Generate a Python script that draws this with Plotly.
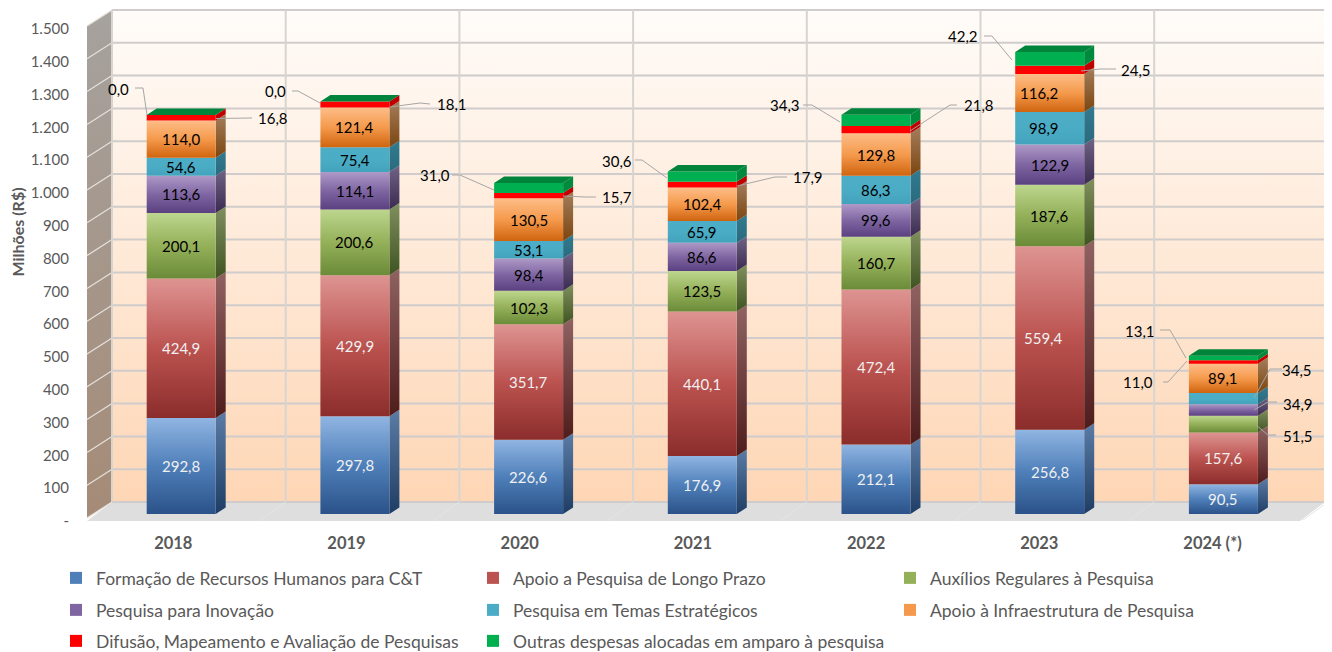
import plotly.graph_objects as go

YEARS = ["2018", "2019", "2020", "2021", "2022", "2023", "2024 (*)"]
NAMES = ["Formação de Recursos Humanos para C&T", "Apoio a Pesquisa de Longo Prazo",
         "Auxílios Regulares à Pesquisa", "Pesquisa para Inovação",
         "Pesquisa em Temas Estratégicos", "Apoio à Infraestrutura de Pesquisa",
         "Difusão, Mapeamento e Avaliação de Pesquisas",
         "Outras despesas alocadas em amparo à pesquisa"]
FORMACAO = [292.8, 297.8, 226.6, 176.9, 212.1, 256.8, 90.5]
LONGO_PRAZO = [424.9, 429.9, 351.7, 440.1, 472.4, 559.4, 157.6]
AUXILIOS = [200.1, 200.6, 102.3, 123.5, 160.7, 187.6, 51.5]
INOVACAO = [113.6, 114.1, 98.4, 86.6, 99.6, 122.9, 34.9]
TEMAS = [54.6, 75.4, 53.1, 65.9, 86.3, 98.9, 34.5]
INFRA = [114.0, 121.4, 130.5, 102.4, 129.8, 116.2, 89.1]
DIFUSAO = [16.8, 18.1, 15.7, 17.9, 21.8, 24.5, 11.0]
OUTRAS = [0.0, 0.0, 31.0, 30.6, 34.3, 42.2, 13.1]
SERIES = [FORMACAO, LONGO_PRAZO, AUXILIOS, INOVACAO, TEMAS, INFRA, DIFUSAO, OUTRAS]
Y_TICKS = list(range(0, 1501, 100))
Y_LABELS = ["-"] + [f"{v:,}".replace(",", ".") for v in Y_TICKS[1:]]

# styles: (front top, front bottom, side top, side bottom, front middle / legend swatch)
STYLES = [
    ("#90b5e2", "#2b5289", "#5a7ca6", "#1f3d64", "#4f7fb9"),
    ("#de9492", "#8b2d2b", "#906262", "#4f1c1c", "#bb5350"),
    ("#bdd68e", "#6b8b39", "#808f5e", "#3f5422", "#94b059"),
    ("#ae99c7", "#5a4080", "#706384", "#3a2a50", "#7f66a2"),
    ("#4dadc7", "#43a3bd", "#327b90", "#2a6a7e", "#4bacc6"),
    ("#fdbd88", "#cf640f", "#a37e5c", "#7c4510", "#f59a4c"),
    ("#ff0000", "#ff0000", "#c00000", "#c00000", "#ff0000"),
    ("#00b050", "#00b050", "#008a3e", "#008a3e", "#00b050"),
]
TEXT_COLOR = ["#f0f0f0", "#f0f0f0"] + ["#000000"] * 6
TOP_FACE = "#00843c"

PAGE_W, PAGE_H = 1332, 652
BODY_MARGIN = 8
L, R, T, B = 80, 1330, 9, 525
STEP = 173.7
TICK_STEP = 173.2
CAT0_PX = 173.3
BAR_BASE_PX = 514.0
K = 0.328


def dx(px):
    return (px - CAT0_PX) / STEP


def dy(py):
    return (BAR_BASE_PX - py) / K


BAR_SHIFT = 7.9 / STEP
BAR_W = 69.0 / STEP
DEPTH_X = 10.0 / STEP
DEPTH_Y = 6.5 / K
TICK_SHIFT = -7.0 / K

# label position and leader path, in pixels: (series, year): (lx, ly, path)
OUTSIDE = {
    (7, 0): (118, 89, [(135, 88), (143, 88), (147, 115)]),
    (6, 0): (273, 118, [(252, 118), (232, 118), (216, 118.5)]),
    (7, 1): (275, 91, [(292, 91), (298, 91), (320, 103)]),
    (6, 1): (452, 104, [(430, 104), (420, 103), (390, 107)]),
    (7, 2): (435, 175, [(452, 175), (460, 175), (494, 190)]),
    (6, 2): (617, 197, [(596, 197), (585, 197), (563, 196)]),
    (7, 3): (617, 161, [(635, 160), (642, 160), (667, 178)]),
    (6, 3): (808, 177, [(787, 177), (775, 177), (737, 186)]),
    (7, 4): (785, 105, [(803, 105), (812, 105), (840, 122)]),
    (6, 4): (979, 105, [(957, 105), (950, 105), (910, 131)]),
    (7, 5): (963, 36, [(984, 36), (992, 36), (1012, 60)]),
    (6, 5): (1136, 70, [(1116, 69), (1100, 69), (1081, 71)]),
    (7, 6): (1140, 331, [(1160, 330), (1170, 330), (1186, 358)]),
    (6, 6): (1138, 382, [(1163, 382), (1168, 382), (1187, 361)]),
    (4, 6): (1297, 370, [(1282, 369), (1270, 369), (1254, 398)]),
    (3, 6): (1298, 404, [(1277, 402), (1268, 402), (1254, 410)]),
    (2, 6): (1298, 436, [(1276, 435), (1268, 435), (1256, 425)]),
}
NUDGE = {(5, 5): -11, (4, 5): -6, (1, 5): -6}

fig = go.Figure()


def poly(points, c0, c1=None, cm=None):
    xs = [p[0] for p in points] + [points[0][0]]
    ys = [p[1] for p in points] + [points[0][1]]
    kw = dict(fillcolor=c0)
    if c1 is not None and c1 != c0:
        stops = [[0, c1], [0.5, cm], [1, c0]] if cm else [[0, c1], [1, c0]]
        kw = dict(fillgradient=dict(type="vertical", colorscale=stops))
    fig.add_trace(go.Scatter(x=xs, y=ys, mode="lines", fill="toself", line=dict(width=0),
                             hoverinfo="skip", showlegend=False, **kw))


def line_px(path, color, width):
    fig.add_trace(go.Scatter(x=[dx(p[0]) for p in path], y=[dy(p[1]) for p in path], mode="lines",
                             line=dict(color=color, width=width), hoverinfo="skip", showlegend=False))


# real stacked bars, carrying the legend
ROWS = ["legend", "legend", "legend", "legend2", "legend2", "legend2", "legend3", "legend3"]
for s, vals in enumerate(SERIES):
    fig.add_trace(go.Bar(x=list(range(7)), y=vals, name=NAMES[s], width=BAR_W, offset=BAR_SHIFT - BAR_W / 2,
                         marker=dict(color=STYLES[s][4], line=dict(width=0)), legend=ROWS[s],
                         hovertemplate="%{y:.1f}<extra>" + NAMES[s] + "</extra>"))

# walls and floor
WALL_L, WALL_R, WALL_T, WALL_B = 112, 1325, 10, 502
FRONT_L, FRONT_R = 87, 1300
poly([(dx(FRONT_L), dy(521)), (dx(WALL_L), dy(WALL_B)), (dx(WALL_R), dy(WALL_B)), (dx(FRONT_R), dy(521))], "#dedede")
poly([(dx(WALL_L), dy(WALL_T)), (dx(WALL_R), dy(WALL_T)), (dx(WALL_R), dy(WALL_B)), (dx(WALL_L), dy(WALL_B))],
     "#fffcf9", "#fed6b5")
poly([(dx(FRONT_L), dy(26)), (dx(WALL_L), dy(WALL_T)), (dx(WALL_L), dy(WALL_B)), (dx(FRONT_L), dy(518))],
     "#a6a29e", "#a58b77")
for v in Y_TICKS:
    py = WALL_B - v * K
    line_px([(FRONT_L, py + 16), (WALL_L, py)], "#e6e1dc", 1.2)
    line_px([(WALL_L, py), (WALL_R, py)], "#cfcccb", 2)
for c in range(8):
    px = WALL_L + c * STEP
    line_px([(px, WALL_T), (px, WALL_B)], "#d8d4d0", 2)
    if c:
        line_px([(px, WALL_B), (px - 25, 520)], "#e4e4e4", 1)

# bar faces
labels = []
for i in range(7):
    xl = i + BAR_SHIFT - BAR_W / 2
    xr = xl + BAR_W
    cum = 0.0
    for s, vals in enumerate(SERIES):
        v = vals[i]
        y0, y1 = cum, cum + v
        cum = y1
        st = STYLES[s]
        if v > 0:
            poly([(xr, y0), (xr + DEPTH_X, y0 + DEPTH_Y), (xr + DEPTH_X, y1 + DEPTH_Y), (xr, y1)], st[2], st[3])
            poly([(xl, y0), (xr, y0), (xr, y1), (xl, y1)], st[0], st[1], st[4])
        if (s, i) not in OUTSIDE:
            labels.append(dict(x=i + BAR_SHIFT + NUDGE.get((s, i), 0) / STEP, y=(y0 + y1) / 2,
                               text=f"{v:.1f}".replace(".", ","), font_color=TEXT_COLOR[s]))
    poly([(xl, cum), (xr, cum), (xr + DEPTH_X, cum + DEPTH_Y), (xl + DEPTH_X, cum + DEPTH_Y)], TOP_FACE)

# leaders and outside labels
for (s, i), (lx, ly, path) in OUTSIDE.items():
    line_px(path, "#a6a6a6", 1)
    labels.append(dict(x=dx(lx), y=dy(ly), text=f"{SERIES[s][i]:.1f}".replace(".", ","), font_color="#000000"))

annotations = [dict(x=a["x"], y=a["y"], text=a["text"], showarrow=False, xref="x", yref="y",
                    font=dict(family="Lato", size=15, color=a["font_color"])) for a in labels]
annotations.append(dict(text="<b>Milhões (R$)</b>", textangle=-90, showarrow=False, xref="paper", yref="paper",
                        x=(16.5 - L) / (R - L), y=(B - 232) / (B - T), xanchor="center", yanchor="middle",
                        font=dict(family="Lato", size=16, color="#595959")))


def legend_cfg(py):
    return dict(orientation="h", x=(56 - L) / (R - L), xanchor="left", y=(B - py) / (B - T), yanchor="middle",
                entrywidth=372, entrywidthmode="pixels", bgcolor="rgba(0,0,0,0)",
                font=dict(family="Lato", size=17.5, color="#595959"), traceorder="normal")


fig.update_layout(
    width=PAGE_W - BODY_MARGIN, height=PAGE_H - BODY_MARGIN, barmode="stack", showlegend=True,
    margin=dict(l=L - BODY_MARGIN, r=PAGE_W - R, t=T - BODY_MARGIN, b=PAGE_H - B, pad=0, autoexpand=False),
    paper_bgcolor="#ffffff", plot_bgcolor="#ffffff",
    font=dict(family="Lato", size=15, color="#595959"),
    xaxis=dict(range=[dx(L), dx(R)], tickvals=[i * TICK_STEP / STEP for i in range(7)], ticktext=YEARS,
               showgrid=False, zeroline=False, showline=False, ticks="",
               tickfont=dict(family="Lato", size=16.5, color="#595959", weight="bold"), ticklabelstandoff=6),
    yaxis=dict(range=[dy(B), dy(T)], tickvals=[v + TICK_SHIFT for v in Y_TICKS], ticktext=Y_LABELS, showgrid=False,
               zeroline=False, showline=False, ticks="", tickfont=dict(family="Lato", size=15, color="#595959"),
               ticklabelstandoff=10),
    legend=legend_cfg(578), legend2=legend_cfg(610), legend3=legend_cfg(641),
    annotations=annotations,
)
fig.write_html("out.html")
